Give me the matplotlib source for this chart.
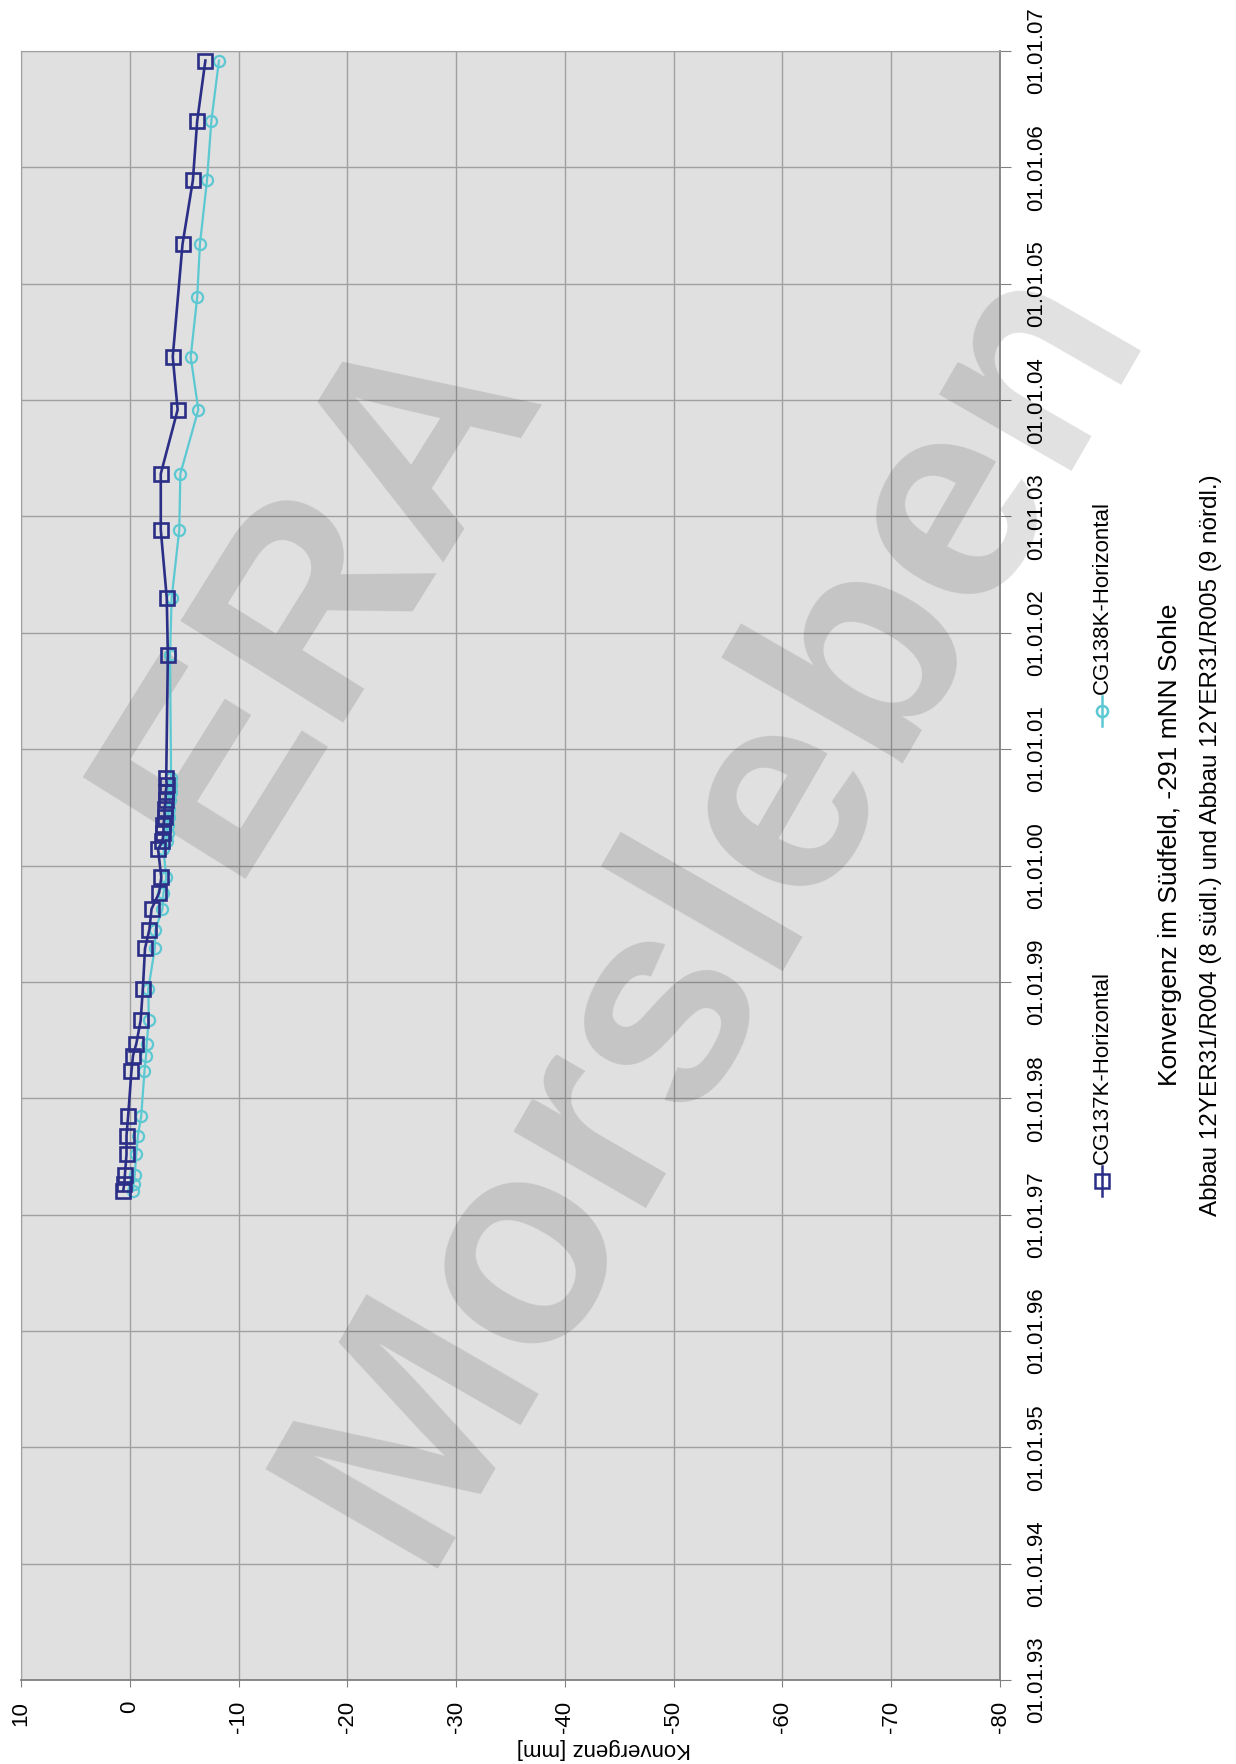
import matplotlib
matplotlib.use('Agg')
import matplotlib.pyplot as plt
import matplotlib.dates as mdates
from matplotlib.lines import Line2D
import pandas as pd

# page is portrait, chart is turned by 90 degrees (date axis runs upwards)
W, H = 1236, 1764
plt.rcParams['font.family'] = ['Liberation Sans', 'DejaVu Sans']

# CG137K-Horizontal (squares)
dates_137 = ['1997-03-17', '1997-04-08', '1997-05-05', '1997-07-09', '1997-09-06',
             '1997-11-06', '1998-03-26', '1998-05-15', '1998-06-21', '1998-09-02',
             '1998-12-09', '1999-04-16', '1999-06-14', '1999-08-18', '1999-10-08',
             '1999-11-25', '2000-02-21', '2000-03-17', '2000-04-12', '2000-05-08',
             '2000-06-03', '2000-06-28', '2000-07-24', '2000-08-19', '2000-09-09',
             '2000-10-01', '2001-10-23', '2002-04-20', '2002-11-20', '2003-05-15',
             '2003-12-02', '2004-05-16', '2005-05-05', '2005-11-21', '2006-05-27',
             '2006-12-02']
conv_137 = [0.6, 0.5, 0.45, 0.3, 0.3,
            0.15, -0.15, -0.3, -0.6, -1.0,
            -1.2, -1.4, -1.8, -2.0, -2.7,
            -2.9, -2.6, -3.0, -3.1, -3.1,
            -3.2, -3.2, -3.3, -3.3, -3.4,
            -3.35, -3.5, -3.4, -2.85, -2.85,
            -4.4, -3.95, -4.85, -5.8, -6.2,
            -6.95]

# CG138K-Horizontal (circles)
dates_138 = ['1997-03-17', '1997-04-08', '1997-05-05', '1997-07-09', '1997-09-06',
             '1997-11-06', '1998-03-26', '1998-05-15', '1998-06-21', '1998-09-02',
             '1998-12-09', '1999-04-16', '1999-06-14', '1999-08-18', '1999-10-08',
             '1999-11-25', '2000-02-21', '2000-03-17', '2000-04-12', '2000-05-08',
             '2000-06-03', '2000-06-28', '2000-07-24', '2000-08-19', '2000-09-09',
             '2000-10-01', '2001-10-23', '2002-04-20', '2002-11-20', '2003-05-15',
             '2003-12-02', '2004-05-16', '2004-11-20', '2005-05-05', '2005-11-21',
             '2006-05-27', '2006-12-02']
conv_138 = [-0.3, -0.35, -0.45, -0.6, -0.75,
            -1.05, -1.35, -1.5, -1.55, -1.75,
            -1.7, -2.3, -2.35, -3.0, -3.1,
            -3.35, -3.1, -3.45, -3.5, -3.55,
            -3.6, -3.65, -3.7, -3.75, -3.8,
            -3.8, -3.7, -3.85, -4.55, -4.65,
            -6.3, -5.6, -6.2, -6.45, -7.1,
            -7.5, -8.2]

x_ticks = [10, 0, -10, -20, -30, -40, -50, -60, -70, -80]
date_start, date_end = '1993-01-01', '2007-01-01'

title = 'Konvergenz im Südfeld, -291 mNN Sohle'
subtitle = 'Abbau 12YER31/R004 (8 südl.) und Abbau 12YER31/R005 (9 nördl.)'
label_137 = 'CG137K-Horizontal'
label_138 = 'CG138K-Horizontal'

navy = '#2b2e86'
cyan = '#5cc8d2'


def fx(px):
    return px / W


def fy(py):
    return 1 - py / H


fig = plt.figure(figsize=(W / 100, H / 100), dpi=100)
ax = fig.add_axes([fx(21), fy(1680), (1000 - 21) / W, (1680 - 51) / H])
ax.set_facecolor('#e0e0e0')

ax.plot(conv_138, pd.to_datetime(dates_138), color=cyan, lw=1.6, marker='o', ms=8,
        mfc='none', mec=cyan, mew=1.6, zorder=3)
ax.plot(conv_137, pd.to_datetime(dates_137), color=navy, lw=1.9, marker='s', ms=9.5,
        mfc='none', mec=navy, mew=1.9, zorder=4)

ax.set_xlim(10, -80)
ax.set_xticks(x_ticks)
ax.set_xticklabels([str(v) for v in x_ticks], rotation=90)
ax.set_ylim(pd.Timestamp(date_start), pd.Timestamp(date_end))
ax.yaxis.set_major_locator(mdates.YearLocator())
ax.yaxis.set_major_formatter(mdates.DateFormatter('%d.%m.%y'))
ax.yaxis.tick_right()
plt.setp(ax.get_yticklabels(), rotation=90, va='center', ha='left')

ax.tick_params(axis='x', direction='out', length=5, pad=10, labelsize=16, color='#808080')
ax.tick_params(axis='y', direction='out', length=8, pad=11, labelsize=16, color='#808080')
ax.grid(True, color='#a0a0a0', lw=1)
ax.set_axisbelow(True)
for side in ['top', 'left']:
    ax.spines[side].set_color('#a0a0a0')
for side in ['bottom', 'right']:
    ax.spines[side].set_color('#808080')
    ax.spines[side].set_linewidth(1.3)

# watermark
wm = dict(transform=fig.transFigure, fontweight='bold', color='black', alpha=0.12,
          ha='center', va='center', rotation_mode='anchor', zorder=1.5, clip_on=False)
ax.text(fx(322), fy(592), 'ERA', rotation=58, fontsize=200, **wm)
ax.text(fx(715), fy(905), 'Morsleben', rotation=60, fontsize=208, **wm)

# legend, turned like the rest
for (ypx, col, mk, ms, lab) in [(1181, navy, 's', 9.5, label_137), (711, cyan, 'o', 8, label_138)]:
    fig.add_artist(Line2D([fx(1102), fx(1102)], [fy(ypx + 15), fy(ypx - 15)],
                          transform=fig.transFigure, color=col, lw=1.8))
    fig.add_artist(Line2D([fx(1102)], [fy(ypx)], transform=fig.transFigure, color=col,
                          marker=mk, ms=ms, mfc='none', mec=col, mew=1.8))
    fig.text(fx(1102), fy(ypx - 17), lab, rotation=90, ha='center', va='bottom', fontsize=16)

fig.text(fx(1170), fy(845), title, rotation=90, ha='center', va='center', fontsize=19)
fig.text(fx(1211), fy(845), subtitle, rotation=90, ha='center', va='center', fontsize=17.5)
fig.text(fx(604), fy(1749), 'Konvergenz [mm]', rotation=180, ha='center', va='center',
         fontsize=16)

fig.savefig('out.png', dpi=100)
